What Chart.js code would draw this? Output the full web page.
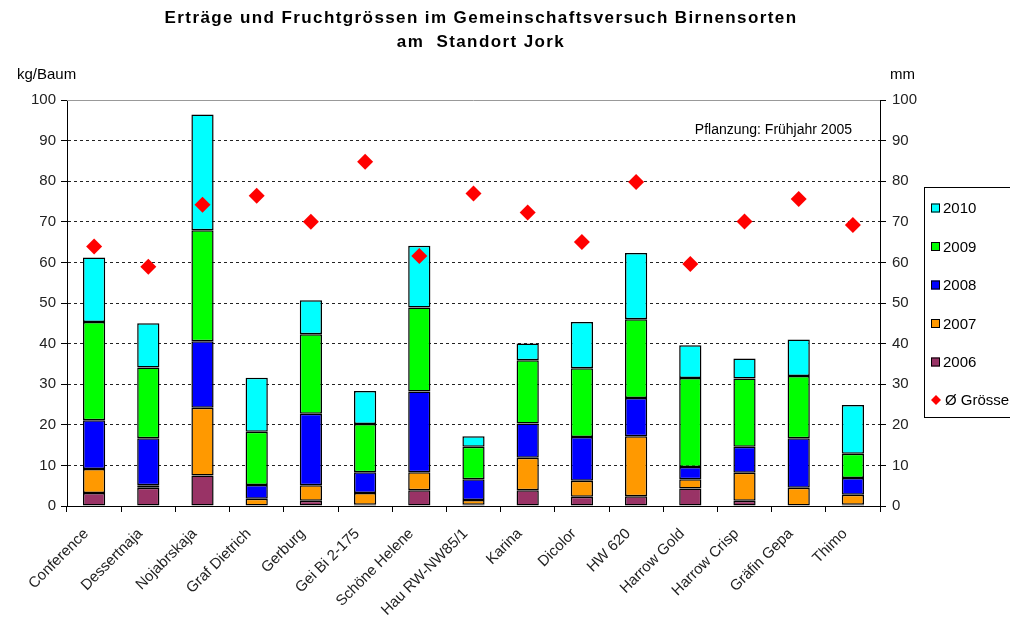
<!DOCTYPE html>
<html>
<head>
<meta charset="utf-8">
<script src="https://cdn.jsdelivr.net/npm/chart.js@4"></script>
<style>
  html, body { margin: 0; padding: 0; background: #fff; }
  #wrap { width: 1010px; height: 621px; position: relative; }
</style>
</head>
<body>
<div id="wrap"><canvas id="chart" width="1010" height="621"></canvas></div>
<script>
// --- data ---
const sorten = ['Conference', 'Dessertnaja', 'Nojabrskaja', 'Graf Dietrich', 'Gerburg', 'Gei Bi 2-175',
  'Schöne Helene', 'Hau RW-NW85/1', 'Karina', 'Dicolor', 'HW 620', 'Harrow Gold', 'Harrow Crisp',
  'Gräfin Gepa', 'Thimo'];
const ertrag2006 = [3.2, 4.5, 7.5, 0, 1.3, 0.3, 3.9, 0.3, 3.9, 2.3, 2.4, 4.3, 1.3, 0, 0.3];
const ertrag2007 = [5.9, 0.6, 16.7, 1.8, 3.8, 2.9, 4.4, 1.2, 8.0, 3.9, 14.8, 2.3, 6.9, 4.5, 2.5];
const ertrag2008 = [12.0, 11.6, 16.4, 3.4, 17.6, 5.1, 19.9, 5.1, 8.4, 10.8, 9.4, 3.0, 6.4, 12.2, 4.1];
const ertrag2009 = [24.2, 17.4, 27.3, 13.1, 19.6, 11.9, 20.7, 8.0, 15.6, 16.9, 19.4, 21.9, 16.8, 15.3, 6.0];
const ertrag2010 = [15.9, 10.9, 28.5, 13.3, 8.4, 8.1, 15.2, 2.6, 4.1, 11.4, 16.3, 8.1, 4.9, 9.0, 12.0];
const groesse = [63.9, 58.9, 74.2, 76.4, 70.0, 84.8, 61.6, 77.0, 72.3, 65.0, 79.8, 59.6, 70.1, 75.6, 69.2];

const FONT = "'Liberation Sans', Arial, sans-serif";
const yearColors = { '2006': '#993366', '2007': '#FF9900', '2008': '#0000FF', '2009': '#00FF00', '2010': '#00FFFF' };

function barSet(label, data) {
  return {
    type: 'bar', label, data,
    backgroundColor: yearColors[label],
    borderColor: '#000', borderWidth: 1.5, borderSkipped: false,
    categoryPercentage: 1, barPercentage: 0.41,
    yAxisID: 'y', order: 1
  };
}

// title, axis units, note, frame top and the legend box
const extras = {
  id: 'extras',
  afterDraw(chart) {
    const ctx = chart.ctx;
    const a = chart.chartArea;
    ctx.save();
    ctx.strokeStyle = '#999';
    ctx.lineWidth = 1;
    ctx.beginPath();
    ctx.moveTo(a.left, a.top + 0.5);
    ctx.lineTo(a.right, a.top + 0.5);
    ctx.stroke();

    ctx.fillStyle = '#000';
    ctx.textAlign = 'center';
    ctx.textBaseline = 'middle';
    ctx.font = 'bold 17px ' + FONT;
    ctx.letterSpacing = '1.4px';
    ctx.fillText('Erträge und Fruchtgrössen im Gemeinschaftsversuch Birnensorten', 481, 18);
    ctx.fillText('am  Standort Jork', 481, 42);
    ctx.letterSpacing = '0px';

    ctx.font = '15px ' + FONT;
    ctx.textAlign = 'left';
    ctx.fillText('kg/Baum', 17, 75);
    ctx.fillText('mm', 890, 75);

    ctx.font = '14px ' + FONT;
    ctx.textAlign = 'right';
    ctx.fillText('Pflanzung: Frühjahr 2005', 852, 130);

    // legend
    ctx.strokeStyle = '#000';
    ctx.strokeRect(924.5, 187.5, 100, 230);
    const items = ['2010', '2009', '2008', '2007', '2006'];
    ctx.font = '15px ' + FONT;
    ctx.textAlign = 'left';
    items.forEach((y, i) => {
      const cy = 208 + i * 38.5;
      ctx.fillStyle = yearColors[y];
      ctx.fillRect(931, cy - 4.5, 9, 9);
      ctx.strokeRect(931.5, cy - 4, 8, 8);
      ctx.fillStyle = '#000';
      ctx.fillText(y, 943, cy + 1);
    });
    const dy = 400;
    ctx.fillStyle = '#FF0000';
    ctx.beginPath();
    ctx.moveTo(936, dy - 5); ctx.lineTo(941, dy); ctx.lineTo(936, dy + 5); ctx.lineTo(931, dy);
    ctx.closePath();
    ctx.fill();
    ctx.fillStyle = '#000';
    ctx.fillText('Ø Grösse', 945, dy + 1);
    ctx.restore();
  }
};

new Chart(document.getElementById('chart'), {
  data: {
    labels: sorten,
    datasets: [
      {
        type: 'line', label: 'Ø Grösse', data: groesse, yAxisID: 'y1',
        showLine: false, pointStyle: 'rectRot', pointRadius: 8, pointHoverRadius: 8,
        pointBackgroundColor: '#FF0000', pointBorderColor: '#FF0000', pointBorderWidth: 0,
        order: 0
      },
      barSet('2006', ertrag2006),
      barSet('2007', ertrag2007),
      barSet('2008', ertrag2008),
      barSet('2009', ertrag2009),
      barSet('2010', ertrag2010)
    ]
  },
  options: {
    responsive: false,
    animation: false,
    events: [],
    layout: { padding: { top: 100, left: 0, right: 0, bottom: 0 } },
    plugins: { legend: { display: false }, title: { display: false }, tooltip: { enabled: false } },
    scales: {
      x: {
        stacked: true,
        afterFit: (s) => { s.height = 115; },
        grid: { offset: true, drawOnChartArea: false, color: '#000', tickLength: 6 },
        border: { color: '#000' },
        ticks: {
          autoSkip: false, minRotation: 45, maxRotation: 45, padding: 13, labelOffset: -8,
          color: '#222', font: { family: FONT, size: 15 }
        }
      },
      y: {
        stacked: true, min: 0, max: 100, position: 'left',
        afterFit: (s) => { s.width = 67; },
        grid: {
          color: (c) => (c.tick && (c.tick.value === 0 || c.tick.value === 100)) ? 'rgba(0,0,0,0)' : '#222',
          tickColor: '#000', tickLength: 6, tickBorderDash: []
        },
        border: { color: '#000', dash: [3, 3] },
        ticks: { stepSize: 10, padding: 5, color: '#222', font: { family: FONT, size: 15 } }
      },
      y1: {
        min: 0, max: 100, position: 'right',
        afterFit: (s) => { s.width = 130; },
        grid: { drawOnChartArea: false, tickColor: '#000', tickLength: 6 },
        border: { color: '#000' },
        ticks: { stepSize: 10, padding: 6, color: '#222', font: { family: FONT, size: 15 } }
      }
    }
  },
  plugins: [extras]
});
</script>
</body>
</html>
